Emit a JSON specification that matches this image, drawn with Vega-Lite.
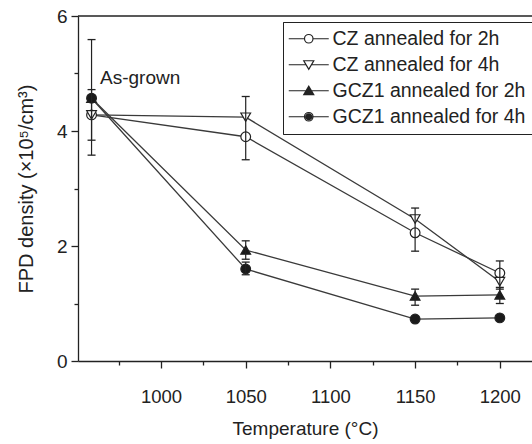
{
  "$schema": "https://vega.github.io/schema/vega-lite/v6.json",
  "width": 454,
  "height": 345,
  "autosize": {"type": "none"},
  "padding": {"left": 78, "top": 16, "right": 0, "bottom": 83},
  "config": {
    "view": {"stroke": null},
    "font": "Liberation Sans",
    "axis": {
      "grid": false,
      "domainColor": "#222",
      "domainWidth": 1.3,
      "tickColor": "#222",
      "tickWidth": 1.3,
      "labelColor": "#222",
      "titleColor": "#222",
      "titleFontWeight": "normal",
      "labelFont": "Liberation Sans",
      "titleFont": "Liberation Sans"
    },
    "legend": {
      "orient": "none",
      "legendX": 205,
      "legendY": 6,
      "padding": 7,
      "strokeColor": "#222",
      "fillColor": "white",
      "symbolSize": 100,
      "symbolStrokeWidth": 1.2,
      "symbolFillColor": "white",
      "symbolOffset": 9,
      "labelOffset": 14,
      "labelLimit": 400,
      "labelFontSize": 19.5,
      "labelColor": "#222",
      "labelFont": "Liberation Sans",
      "rowPadding": 5
    }
  },
  "datasets": {
    "pts": [
      {"series": "CZ annealed for 2h", "t": 959, "v": 4.28},
      {"series": "CZ annealed for 2h", "t": 1050, "v": 3.9},
      {"series": "CZ annealed for 2h", "t": 1150, "v": 2.23},
      {"series": "CZ annealed for 2h", "t": 1200, "v": 1.53},
      {"series": "CZ annealed for 4h", "t": 959, "v": 4.28},
      {"series": "CZ annealed for 4h", "t": 1050, "v": 4.24},
      {"series": "CZ annealed for 4h", "t": 1150, "v": 2.47},
      {"series": "CZ annealed for 4h", "t": 1200, "v": 1.38},
      {"series": "GCZ1 annealed for 2h", "t": 959, "v": 4.57},
      {"series": "GCZ1 annealed for 2h", "t": 1050, "v": 1.93},
      {"series": "GCZ1 annealed for 2h", "t": 1150, "v": 1.13},
      {"series": "GCZ1 annealed for 2h", "t": 1200, "v": 1.15},
      {"series": "GCZ1 annealed for 4h", "t": 959, "v": 4.57},
      {"series": "GCZ1 annealed for 4h", "t": 1050, "v": 1.6},
      {"series": "GCZ1 annealed for 4h", "t": 1150, "v": 0.73},
      {"series": "GCZ1 annealed for 4h", "t": 1200, "v": 0.75}
    ],
    "err": [
      {"t": 959, "lo": 3.58, "hi": 5.59},
      {"t": 959, "lo": 3.84, "hi": 4.72},
      {"t": 1050, "lo": 3.5, "hi": 4.6},
      {"t": 1050, "lo": 1.77, "hi": 2.09},
      {"t": 1050, "lo": 1.5, "hi": 1.72},
      {"t": 1150, "lo": 1.91, "hi": 2.66},
      {"t": 1150, "lo": 0.97, "hi": 1.25},
      {"t": 1200, "lo": 1.25, "hi": 1.74},
      {"t": 1200, "lo": 1.0, "hi": 1.28}
    ],
    "notes": [
      {"t": 964, "v": 4.93, "label": "As-grown"}
    ]
  },
  "resolve": {"scale": {"shape": "independent"}, "legend": {"shape": "independent"}},
  "layer": [
    {
      "data": {"values": [{"top": 6}]},
      "mark": {"type": "rule", "color": "#222", "strokeWidth": 1.3},
      "encoding": {"y": {"field": "top", "type": "quantitative"}}
    },
    {
      "data": {"name": "pts"},
      "mark": {"type": "line", "color": "#3a3a3a", "strokeWidth": 1.3},
      "encoding": {
        "x": {
          "field": "t", "type": "quantitative",
          "scale": {"domain": [951, 1219], "nice": false, "zero": false},
          "axis": {
            "values": [975, 1000, 1025, 1050, 1075, 1100, 1125, 1150, 1175, 1200],
            "labelExpr": "datum.value % 50 === 0 ? datum.label : ''",
            "format": "d",
            "tickSize": {"condition": {"test": "datum.value % 50 === 0", "value": 7}, "value": 4},
            "labelFontSize": 18.5,
            "labelPadding": 19,
            "labelFlush": false,
            "labelOverlap": false,
            "title": "Temperature (°C)",
            "titleFontSize": 19,
            "titlePadding": 14
          }
        },
        "y": {
          "field": "v", "type": "quantitative",
          "scale": {"domain": [0, 6], "nice": false},
          "axis": {
            "values": [0, 1, 2, 3, 4, 5, 6],
            "format": "d",
            "labelExpr": "datum.value % 2 === 0 ? datum.label : ''",
            "tickSize": {"condition": {"test": "datum.value % 2 === 0", "value": 7}, "value": 4},
            "labelFontSize": 19,
            "labelPadding": 4,
            "labelOverlap": false,
            "labelFlush": false,
            "title": "FPD density (×10⁵/cm³)",
            "titleFontSize": 20,
            "titlePadding": 20
          }
        },
        "detail": {"field": "series"}
      }
    },
    {
      "data": {"name": "pts"},
      "transform": [{"filter": "datum.t < 0"}],
      "mark": {"type": "point", "filled": true, "size": 100, "stroke": "#222", "strokeWidth": 1.2, "opacity": 1},
      "encoding": {
        "x": {"field": "t", "type": "quantitative"},
        "y": {"field": "v", "type": "quantitative"},
        "shape": {
          "field": "series", "type": "nominal",
          "scale": {
            "domain": ["CZ annealed for 2h", "CZ annealed for 4h", "GCZ1 annealed for 2h", "GCZ1 annealed for 4h"],
            "range": [
              "M-4,0H-0.85M0.85,0H4M0.85,0A0.85,0.85,0,1,1,-0.85,0A0.85,0.85,0,1,1,0.85,0Z",
              "M-4,0H-0.53M0.53,0H4M-1,-0.8L1,-0.8L0,0.9Z",
              "M-4,0H-0.53M0.53,0H4M-1,0.8L1,0.8L0,-0.9ZM-0.7,0.63L0.7,0.63L0,-0.56ZM-0.4,0.46L0.4,0.46L0,-0.22ZM-0.1,0.29L0.1,0.29L0,0.12Z",
              "M-4,0H-0.85M0.85,0H4M0.85,0A0.85,0.85,0,1,1,-0.85,0A0.85,0.85,0,1,1,0.85,0ZM0.6,0A0.6,0.6,0,1,1,-0.6,0A0.6,0.6,0,1,1,0.6,0ZM0.36,0A0.36,0.36,0,1,1,-0.36,0A0.36,0.36,0,1,1,0.36,0ZM0.12,0A0.12,0.12,0,1,1,-0.12,0A0.12,0.12,0,1,1,0.12,0Z"
            ]
          },
          "legend": {"title": null}
        },
        "fill": {
          "field": "series", "type": "nominal",
          "scale": {"domain": ["CZ annealed for 2h", "CZ annealed for 4h", "GCZ1 annealed for 2h", "GCZ1 annealed for 4h"], "range": ["white", "white", "#1a1a1a", "#1a1a1a"]},
          "legend": {"title": null}
        }
      }
    },
    {
      "data": {"name": "pts"},
      "mark": {"type": "point", "filled": true, "size": 95, "stroke": "#222", "strokeWidth": 1.2, "opacity": 1},
      "encoding": {
        "x": {"field": "t", "type": "quantitative"},
        "y": {"field": "v", "type": "quantitative"},
        "shape": {
          "field": "series", "type": "nominal",
          "scale": {"domain": ["CZ annealed for 2h", "CZ annealed for 4h", "GCZ1 annealed for 2h", "GCZ1 annealed for 4h"], "range": ["circle", "triangle-down", "triangle-up", "circle"]},
          "legend": null
        },
        "fill": {
          "field": "series", "type": "nominal",
          "legend": null
        }
      }
    },
    {
      "data": {"name": "err"},
      "mark": {"type": "rule", "color": "#222", "strokeWidth": 1.2},
      "encoding": {
        "x": {"field": "t", "type": "quantitative"},
        "y": {"field": "lo", "type": "quantitative"},
        "y2": {"field": "hi"}
      }
    },
    {
      "data": {"name": "err"},
      "mark": {"type": "tick", "orient": "horizontal", "size": 8, "thickness": 1.3, "color": "#222", "opacity": 1},
      "encoding": {
        "x": {"field": "t", "type": "quantitative"},
        "y": {"field": "lo", "type": "quantitative"}
      }
    },
    {
      "data": {"name": "err"},
      "mark": {"type": "tick", "orient": "horizontal", "size": 8, "thickness": 1.3, "color": "#222", "opacity": 1},
      "encoding": {
        "x": {"field": "t", "type": "quantitative"},
        "y": {"field": "hi", "type": "quantitative"}
      }
    },
    {
      "data": {"name": "notes"},
      "mark": {"type": "text", "align": "left", "baseline": "middle", "fontSize": 19, "color": "#222", "font": "Liberation Sans"},
      "encoding": {
        "x": {"field": "t", "type": "quantitative"},
        "y": {"field": "v", "type": "quantitative"},
        "text": {"field": "label"}
      }
    }
  ]
}
